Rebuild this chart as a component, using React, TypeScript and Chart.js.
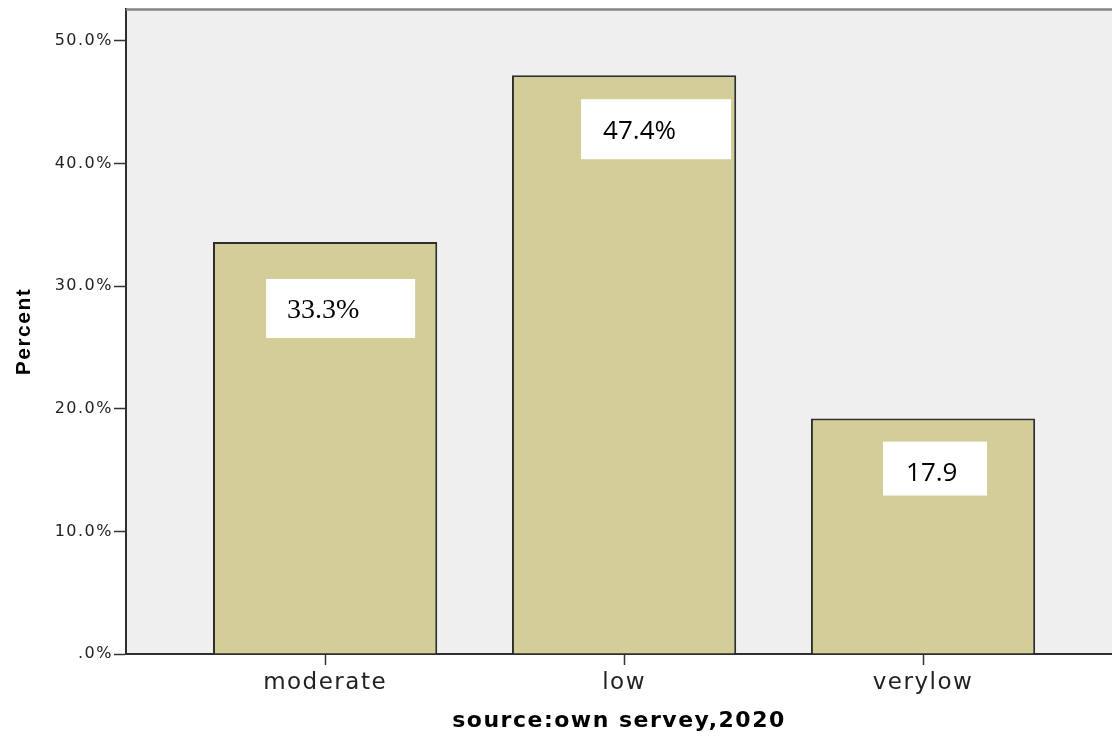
import React, { useEffect, useRef } from 'react';
import { Chart, registerables } from 'chart.js';

Chart.register(...registerables);

// ---- data ----
const categories = ['moderate', 'low', 'verylow'];
const percentValues = [33.6, 47.2, 19.2];
const labelTexts = ['33.3%', '47.4%', '17.9'];
const yTickValues = [0, 10, 20, 30, 40, 50];
const yAxisMax = 52.6;
const xAxisMin = 0.334;
const xAxisMax = 3.632;
const xTitle = 'source:own servey,2020';
const yTitle = 'Percent';

// ---- annotation box layout (relative to each bar's centre / top) ----
const labelBoxes = [
  { dx: -59, dy: 37, w: 149, h: 59, padX: 21, baseY: 39, font: '28px "Liberation Serif"' },
  { dx: -43, dy: 24, w: 150, h: 60, padX: 22, baseY: 40, font: '26px "Open Sans"' },
  { dx: -40, dy: 23, w: 104, h: 54, padX: 23, baseY: 39, font: '26px "Open Sans"' },
];

const AXIS_SPACING = '1.5px';

const framePlugin = {
  id: 'frame',
  beforeUpdate(chart: any) {
    chart.ctx.letterSpacing = AXIS_SPACING;
  },
  beforeDraw(chart: any) {
    const { ctx, chartArea: a } = chart;
    ctx.letterSpacing = AXIS_SPACING;
    ctx.save();
    ctx.fillStyle = '#efefef';
    ctx.fillRect(a.left, a.top, a.right - a.left, a.bottom - a.top);
    ctx.restore();
  },
  afterDatasetsDraw(chart: any) {
    const { ctx } = chart;
    const meta = chart.getDatasetMeta(0);
    meta.data.forEach((bar: any, i: number) => {
      const b = labelBoxes[i];
      if (!b) return;
      const { x, y } = bar.getProps(['x', 'y'], true);
      const left = x + b.dx;
      const top = y + b.dy;
      ctx.save();
      ctx.letterSpacing = '0px';
      ctx.fillStyle = '#ffffff';
      ctx.fillRect(left, top, b.w, b.h);
      ctx.fillStyle = '#000000';
      ctx.font = b.font;
      ctx.textAlign = 'left';
      ctx.textBaseline = 'alphabetic';
      ctx.fillText(labelTexts[i], left + b.padX, top + b.baseY);
      ctx.restore();
    });
  },
  afterDraw(chart: any) {
    const { ctx, chartArea: a } = chart;
    ctx.save();
    ctx.strokeStyle = '#858585';
    ctx.lineWidth = 2.5;
    ctx.beginPath();
    ctx.moveTo(a.left, a.top + 0.5);
    ctx.lineTo(a.right, a.top + 0.5);
    ctx.stroke();
    ctx.restore();
  },
};

export default function App() {
  const canvasRef = useRef<HTMLCanvasElement | null>(null);

  useEffect(() => {
    const canvas = canvasRef.current;
    if (!canvas) return;
    const chart = new Chart(canvas, {
      type: 'bar',
      data: {
        datasets: [
          {
            data: categories.map((_, i) => ({ x: i + 1, y: percentValues[i] })),
            backgroundColor: '#d3ce98',
            borderColor: '#2e2e2e',
            borderWidth: 2,
            barPercentage: 0.75,
            categoryPercentage: 1,
          },
        ],
      },
      options: {
        responsive: false,
        animation: false,
        devicePixelRatio: 1,
        layout: { padding: { left: 0, right: 0, top: 8, bottom: 0 } },
        plugins: {
          legend: { display: false },
          tooltip: { enabled: false },
        },
        scales: {
          x: {
            type: 'linear',
            min: xAxisMin,
            max: xAxisMax,
            offset: false,
            afterBuildTicks: (axis: any) => {
              axis.ticks = categories.map((_, i) => ({ value: i + 1 }));
            },
            afterFit: (axis: any) => {
              axis.height = 84;
            },
            grid: {
              offset: false,
              drawOnChartArea: false,
              drawTicks: true,
              tickLength: 11,
              tickColor: '#333333',
              tickWidth: 1.5,
            },
            border: { display: true, color: '#2e2e2e', width: 2 },
            ticks: {
              autoSkip: false,
              maxRotation: 0,
              padding: 4,
              color: '#222222',
              font: { family: 'DejaVu Sans', size: 23 },
              callback: (v: any) => categories[Number(v) - 1] ?? '',
            },
            title: {
              display: true,
              text: xTitle,
              color: '#000000',
              font: { family: 'DejaVu Sans', size: 22, weight: 'bold' },
              padding: { top: 0, bottom: 4 },
            },
          },
          y: {
            type: 'linear',
            min: 0,
            max: yAxisMax,
            afterBuildTicks: (axis: any) => {
              axis.ticks = yTickValues.map((v) => ({ value: v }));
            },
            afterFit: (axis: any) => {
              axis.width = 126;
            },
            grid: {
              drawOnChartArea: false,
              drawTicks: true,
              tickLength: 12,
              tickColor: '#333333',
              tickWidth: 1.5,
            },
            border: { display: true, color: '#2e2e2e', width: 2 },
            ticks: {
              padding: 1,
              color: '#222222',
              font: { family: 'DejaVu Sans', size: 16, lineHeight: 1 },
              callback: (v: any) => (Number(v) === 0 ? '.0%' : Number(v).toFixed(1) + '%'),
            },
            title: {
              display: true,
              text: yTitle,
              color: '#000000',
              font: { family: 'Liberation Sans', size: 21, weight: 'bold' },
              padding: { top: 12, bottom: 0 },
            },
          },
        },
      },
      plugins: [framePlugin],
    } as any);
    return () => chart.destroy();
  }, []);

  return (
    <div style={{ position: 'absolute', left: 0, top: 0, width: 1112, height: 738 }}>
      <canvas ref={canvasRef} width={1112} height={738} style={{ display: 'block', width: 1112, height: 738 }} />
    </div>
  );
}
